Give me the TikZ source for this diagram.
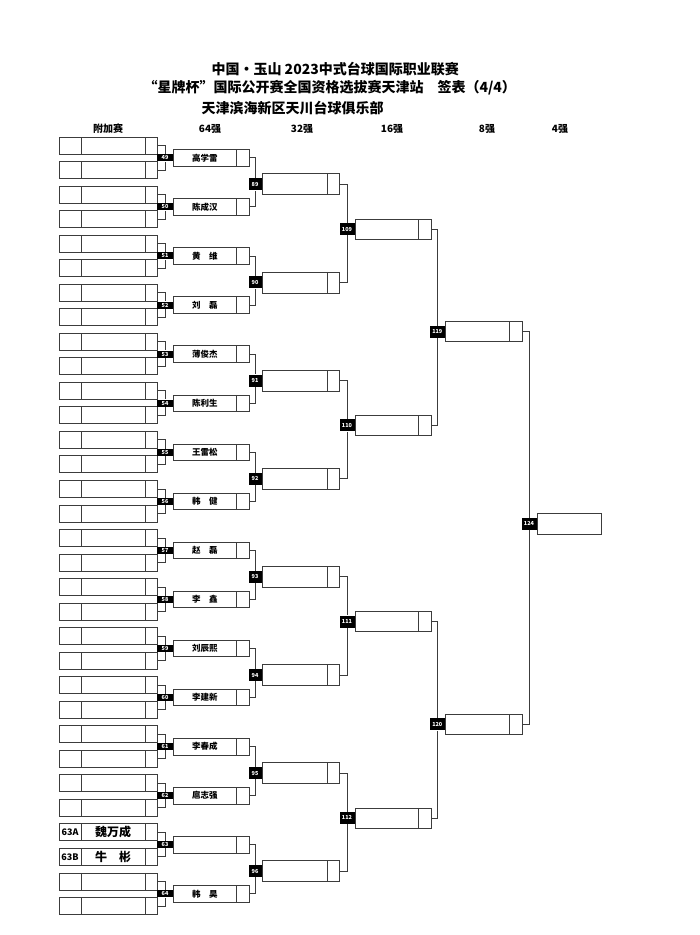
\documentclass[tikz,border=0pt]{standalone}
\usepackage{fontspec}
\setmainfont{Noto Sans CJK SC}
\usetikzlibrary{positioning}
\definecolor{linegray}{HTML}{3C3C3C}

\newcommand{\pname}[1]{\makebox[63pt]{#1}\hspace*{13pt}}

\tikzset{
  slot/.style={draw=linegray, line width=0.8pt, inner sep=0pt, anchor=west},
  rdiv/.style={path picture={\draw[linegray, line width=0.8pt]
      ([xshift=-#1]path picture bounding box.north east) -- ([xshift=-#1]path picture bounding box.south east);}},
  prebox/.style={slot, minimum width=98pt, minimum height=17pt,
    path picture={\draw[linegray, line width=0.8pt]
      ([xshift=22pt]path picture bounding box.north west) -- ([xshift=22pt]path picture bounding box.south west)
      ([xshift=-12pt]path picture bounding box.north east) -- ([xshift=-12pt]path picture bounding box.south east);}},
  rbox/.style={slot, minimum width=76pt, minimum height=#1, rdiv=13pt},
  tag/.style={fill=black, text=white, inner sep=0pt, minimum width=14pt, minimum height=12pt,
    font=\bfseries\fontsize{5.5}{6}\selectfont},
  conn/.style={draw=linegray, line width=0.8pt},
  head/.style={font=\bfseries\fontsize{10}{10}\selectfont},
  ttl/.style={anchor=west, font=\bfseries\fontsize{14}{14}\selectfont}
}

\begin{document}
\begin{tikzpicture}[x=1pt, y=-1pt]
  \useasboundingbox (0,0) rectangle (700,935);

  % titles
  \node[ttl] (t1) at (208,69) {中国・玉山 2023中式台球国际职业联赛};
  \node[ttl] (t2) at (140,88) {“星牌杯”国际公开赛全国资格选拔赛天津站\hspace{1em}签表（4/4）};
  \node[ttl] (t3) at (198,108) {天津滨海新区天川台球俱乐部};

  % round headers
  \foreach \x/\txt [count=\c] in {108/附加赛, 210/64强, 302/32强, 392/16强, 487/8强, 560/4强}
    \node[head] (hd\c) at (\x,129) {\txt};

  % extra round
  \foreach \i in {0,...,31}
    \node[prebox] (a\i) at (59,{145.5+24.53*\i}) {};

  % round of 64
  \foreach \k/\nm [evaluate=\k as \n using int(49+\k), evaluate=\k as \p using int(2*\k),
      evaluate=\k as \q using int(2*\k+1)] in
      {0/高学雷, 1/陈成汉, 2/黄　维, 3/刘　磊, 4/薄俊杰, 5/陈利生, 6/王雷松, 7/韩　健,
       8/赵　磊, 9/李　鑫, 10/刘辰熙, 11/李建新, 12/李春成, 13/扈志强, 14/{}, 15/韩　昊} {
    \node[tag, minimum width=15.6pt, minimum height=7pt] (m\n) at (165,{157.8+49.07*\k}) {\n};
    \node[rbox=16.5pt, right=0pt of m\n, font=\bfseries\fontsize{8.5}{9}\selectfont] (b\k) {\pname{\nm}};
    \draw[conn] (a\p.east) -| (m\n);
    \draw[conn] (a\q.east) -| (m\n);
  }

  % 63A / 63B
  \node[font=\bfseries\fontsize{9}{9}\selectfont] (q63a) at ([xshift=11pt]a28.west) {63A};
  \node[font=\bfseries\fontsize{12}{12}\selectfont] (n63a) at ([xshift=54pt]a28.west) {魏万成};
  \node[font=\bfseries\fontsize{9}{9}\selectfont] (q63b) at ([xshift=11pt]a29.west) {63B};
  \node[font=\bfseries\fontsize{12}{12}\selectfont] (n63b) at ([xshift=54pt]a29.west) {牛　彬};

  % round of 32
  \foreach \j [evaluate=\j as \n using int(89+\j), evaluate=\j as \p using int(2*\j),
      evaluate=\j as \q using int(2*\j+1)] in {0,...,7} {
    \node[tag, minimum width=13pt] (m\n) at (255,{184.3+98.14*\j}) {\n};
    \node[slot, minimum width=77pt, minimum height=21pt, rdiv=12pt, right=0pt of m\n] (c\j) {};
    \draw[conn] (b\p.east) -| (m\n);
    \draw[conn] (b\q.east) -| (m\n);
  }

  % round of 16
  \foreach \j [evaluate=\j as \n using int(109+\j), evaluate=\j as \p using int(2*\j),
      evaluate=\j as \q using int(2*\j+1)] in {0,...,3} {
    \node[tag, minimum width=15pt] (m\n) at (347,{229+196.3*\j}) {\n};
    \node[rbox=20pt, minimum width=76.4pt, right=0pt of m\n] (d\j) {};
    \draw[conn] (c\p.east) -| (m\n);
    \draw[conn] (c\q.east) -| (m\n);
  }

  % quarter finals
  \foreach \j [evaluate=\j as \n using int(119+\j), evaluate=\j as \p using int(2*\j),
      evaluate=\j as \q using int(2*\j+1)] in {0,1} {
    \node[tag, minimum width=15pt] (m\n) at (437.3,{331.7+392.6*\j}) {\n};
    \node[rbox=20pt, minimum width=76.6pt, right=0pt of m\n] (e\j) {};
    \draw[conn] (d\p.east) -| (m\n);
    \draw[conn] (d\q.east) -| (m\n);
  }

  % last four
  \node[tag, minimum width=15pt] (m124) at (529,523.7) {124};
  \node[slot, minimum width=64pt, minimum height=21pt, right=0pt of m124] (f0) {};
  \draw[conn] (e0.east) -| (m124);
  \draw[conn] (e1.east) -| (m124);
\end{tikzpicture}
\end{document}
